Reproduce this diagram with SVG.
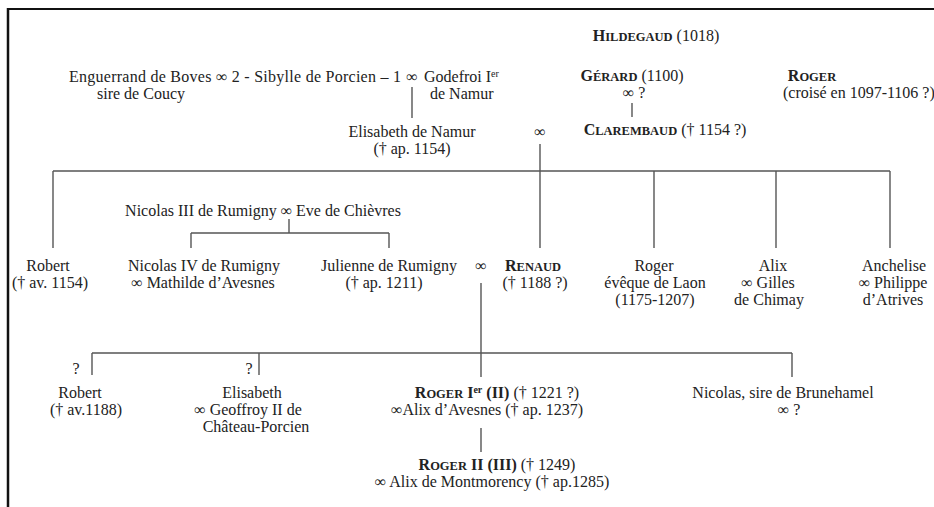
<svg xmlns="http://www.w3.org/2000/svg" width="934" height="507" viewBox="0 0 934 507">
<style>
text{font-family:"Liberation Serif","Times New Roman",serif;font-size:16px;fill:#222;}
.m{text-anchor:middle;}
.b{font-weight:bold;}
.sc{font-size:12.5px;font-weight:bold;}
.sup{font-size:10px;font-weight:bold;}
.ln{stroke:#555;stroke-width:1.4;fill:none;}
.frame{stroke:#111;fill:none;}
</style>
<rect width="934" height="507" fill="#fff"/>
<g id="frame">
<line class="frame" x1="7" y1="9" x2="934" y2="9" stroke-width="2"/>
<line class="frame" x1="8" y1="8" x2="8" y2="507" stroke-width="2.5"/>
</g>
<g id="connectors">
<line class="ln" x1="412" y1="87" x2="412" y2="118"/>
<line class="ln" x1="632" y1="103" x2="632" y2="117"/>
<line class="ln" x1="540" y1="144" x2="540" y2="248"/>
<line class="ln" x1="53" y1="171" x2="890" y2="171"/>
<line class="ln" x1="53" y1="171" x2="53" y2="248"/>
<line class="ln" x1="654" y1="171" x2="654" y2="248"/>
<line class="ln" x1="776" y1="171" x2="776" y2="248"/>
<line class="ln" x1="890" y1="171" x2="890" y2="248"/>
<line class="ln" x1="289" y1="219" x2="289" y2="233"/>
<line class="ln" x1="191" y1="233" x2="389" y2="233"/>
<line class="ln" x1="191" y1="233" x2="191" y2="248"/>
<line class="ln" x1="389" y1="233" x2="389" y2="248"/>
<line class="ln" x1="481" y1="283" x2="481" y2="377"/>
<line class="ln" x1="92" y1="353" x2="792" y2="353"/>
<line class="ln" x1="92" y1="353" x2="92" y2="375"/>
<line class="ln" x1="259" y1="353" x2="259" y2="375"/>
<line class="ln" x1="792" y1="353" x2="792" y2="377"/>
<line class="ln" x1="481" y1="428" x2="481" y2="452"/>
</g>
<g id="hildegaud"><text class="m" x="656" y="41"><tspan class="b">H</tspan><tspan class="sc">ILDEGAUD</tspan> (1018)</text></g>
<g id="sibylle-marriages">
<text x="69" y="82" textLength="332" lengthAdjust="spacing">Enguerrand de Boves ∞ 2 - Sibylle de Porcien – 1</text>
<text class="m" x="412" y="82">∞</text>
<text x="424" y="82">Godefroi I<tspan font-size="10" dy="-5">er</tspan></text>
<text x="97" y="99">sire de Coucy</text>
<text x="430" y="99">de Namur</text>
</g>
<g id="gerard">
<text class="m" x="632" y="81"><tspan class="b">G</tspan><tspan class="sc">ÉRARD</tspan> (1100)</text>
<text class="m" x="634" y="98">∞ ?</text>
</g>
<g id="roger-croise">
<text class="m" x="812" y="81"><tspan class="b">R</tspan><tspan class="sc">OGER</tspan></text>
<text x="783" y="98" font-size="14">(croisé en 1097-1106 ?)</text>
</g>
<g id="clarembaud"><text class="m" x="665" y="135"><tspan class="b">C</tspan><tspan class="sc">LAREMBAUD</tspan> († 1154 ?)</text></g>
<g id="elisabeth-namur">
<text class="m" x="412" y="137">Elisabeth de Namur</text>
<text class="m" x="412" y="154">(† ap. 1154)</text>
<text class="m" x="540" y="137">∞</text>
</g>
<g id="rumigny-parents"><text class="m" x="263" y="216">Nicolas III de Rumigny ∞ Eve de Chièvres</text></g>
<g id="robert1">
<text class="m" x="48" y="271">Robert</text>
<text class="m" x="50" y="288">(† av. 1154)</text>
</g>
<g id="nicolas4">
<text class="m" x="204" y="271">Nicolas IV de Rumigny</text>
<text class="m" x="203" y="288">∞ Mathilde d’Avesnes</text>
</g>
<g id="julienne">
<text class="m" x="389" y="271">Julienne de Rumigny</text>
<text class="m" x="384" y="288">(† ap. 1211)</text>
<text class="m" x="481" y="271">∞</text>
</g>
<g id="renaud">
<text class="m" x="533" y="271"><tspan class="b">R</tspan><tspan class="sc">ENAUD</tspan></text>
<text class="m" x="535" y="288">(† 1188 ?)</text>
</g>
<g id="roger-laon">
<text class="m" x="654" y="271">Roger</text>
<text class="m" x="655" y="288">évêque de Laon</text>
<text class="m" x="655" y="305">(1175-1207)</text>
</g>
<g id="alix">
<text class="m" x="773" y="271">Alix</text>
<text class="m" x="768" y="288">∞ Gilles</text>
<text class="m" x="769" y="305">de Chimay</text>
</g>
<g id="anchelise">
<text class="m" x="894" y="271">Anchelise</text>
<text class="m" x="893" y="288">∞ Philippe</text>
<text class="m" x="893" y="305">d’Atrives</text>
</g>
<g id="robert2">
<text class="m" x="76" y="374">?</text>
<text class="m" x="80" y="398">Robert</text>
<text class="m" x="86" y="415">(† av.1188)</text>
</g>
<g id="elisabeth2">
<text class="m" x="249" y="374">?</text>
<text class="m" x="252" y="398">Elisabeth</text>
<text class="m" x="248" y="415">∞ Geoffroy II de</text>
<text class="m" x="256" y="432">Château-Porcien</text>
</g>
<g id="roger1">
<text class="m" x="497" y="398"><tspan class="b">R</tspan><tspan class="sc">OGER</tspan><tspan class="b"> I</tspan><tspan class="sup" dy="-5">er</tspan><tspan class="b" dy="5"> (II)</tspan> († 1221 ?)</text>
<text class="m" x="487" y="415">∞Alix d’Avesnes († ap. 1237)</text>
</g>
<g id="nicolas-brunehamel">
<text class="m" x="783" y="398">Nicolas, sire de Brunehamel</text>
<text class="m" x="789" y="415">∞ ?</text>
</g>
<g id="roger2">
<text class="m" x="497" y="470"><tspan class="b">R</tspan><tspan class="sc">OGER</tspan><tspan class="b"> II (III)</tspan> († 1249)</text>
<text class="m" x="492" y="487">∞ Alix de Montmorency († ap.1285)</text>
</g>
</svg>
